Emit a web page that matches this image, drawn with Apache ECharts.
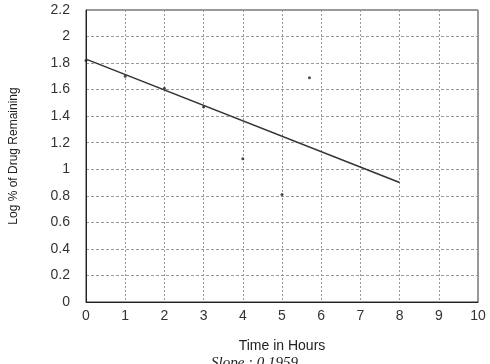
<!DOCTYPE html>
<html>
<head>
    <meta charset="utf-8">
    <title>Log % of Drug Remaining</title>
</head>
<body style="margin:0;background:#fff;">
    <div id="main" style="width: 490px; height: 364px;"></div>
    <script src="https://cdn.jsdelivr.net/npm/echarts@6/dist/echarts.min.js"></script>
    <script type="text/javascript">
        // measured points (hours, log % remaining)
        var hours = [0, 1, 2, 3, 4, 5, 5.7];
        var logRemaining = [1.82, 1.70, 1.61, 1.47, 1.08, 0.81, 1.69];
        // fitted line end points
        var fitHours = [0, 8];
        var fitLog = [1.83, 0.90];
        var slopeText = 'Slope : 0.1959';

        var chart = echarts.init(document.getElementById('main'));
        var font = 'Liberation Sans, Arial, sans-serif';

        var option = {
            animation: false,
            backgroundColor: '#fff',
            title: {
                text: slopeText,
                left: 206,
                top: 351,
                textStyle: {
                    fontFamily: 'Liberation Serif, serif',
                    fontStyle: 'italic',
                    fontWeight: 'normal',
                    fontSize: 15,
                    color: '#222'
                }
            },
            grid: {
                left: 86, right: 12, top: 10, bottom: 62,
                show: true, borderColor: '#333', borderWidth: 1
            },
            xAxis: {
                type: 'value',
                min: 0, max: 10, interval: 1,
                name: 'Time in Hours',
                nameLocation: 'middle',
                nameGap: 37,
                nameTextStyle: { fontFamily: font, fontSize: 14, color: '#222' },
                axisLine: { lineStyle: { color: '#222' } },
                axisTick: { show: false },
                axisLabel: { margin: 7, fontFamily: font, fontSize: 14, color: '#333' },
                splitLine: { lineStyle: { color: '#999', type: [2, 2] } }
            },
            yAxis: {
                type: 'value',
                min: 0, max: 2.2, interval: 0.2,
                name: 'Log % of Drug Remaining',
                nameLocation: 'middle',
                nameGap: 66,
                nameTextStyle: { fontFamily: font, fontSize: 12, color: '#222' },
                axisLine: { show: true, lineStyle: { color: '#222' } },
                axisTick: { show: false },
                axisLabel: {
                    margin: 16, fontFamily: font, fontSize: 14, color: '#333',
                    formatter: function (v) { return +v.toFixed(1) + ''; }
                },
                splitLine: { lineStyle: { color: '#999', type: [3, 2] } }
            },
            series: [
                {
                    type: 'line',
                    data: fitHours.map(function (h, i) { return [h, fitLog[i]]; }),
                    symbol: 'none',
                    lineStyle: { color: '#333', width: 1.5 }
                },
                {
                    type: 'scatter',
                    data: hours.map(function (h, i) { return [h, logRemaining[i]]; }),
                    symbolSize: 3,
                    itemStyle: { color: '#222' }
                }
            ]
        };
        chart.setOption(option);
    </script>
</body>
</html>
